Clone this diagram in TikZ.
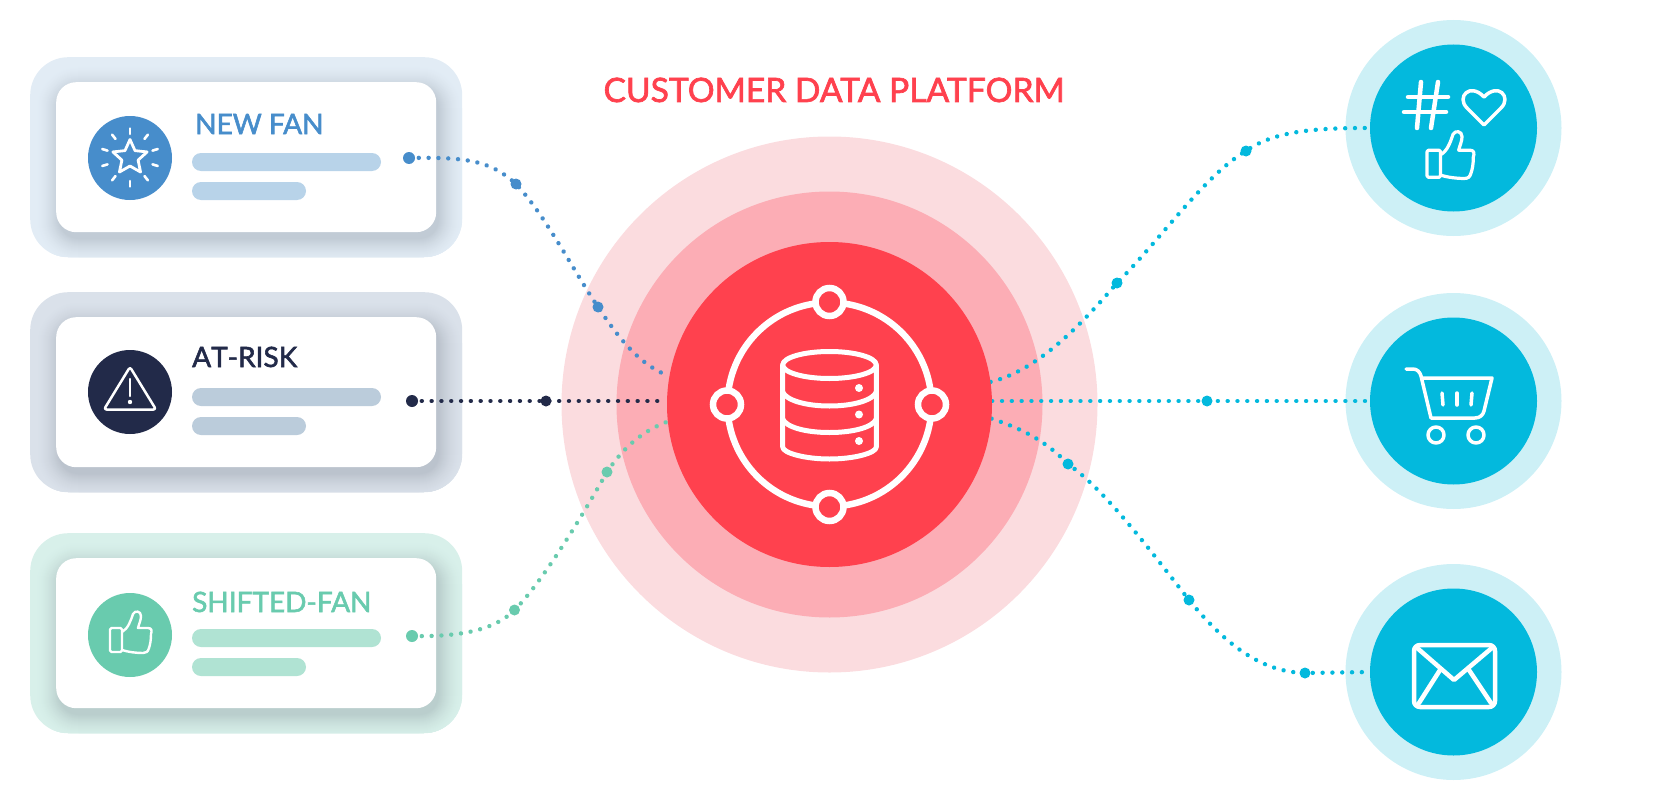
\documentclass[tikz,border=0pt]{standalone}
\usepackage{fontspec}
\setmainfont{Lato}
\newfontfamily\lblfont{Lato}[FakeBold=2]
\newfontfamily\lblnokern{Lato}[FakeBold=2,Kerning=Off]
\definecolor{fanblue}{HTML}{478DCB}
\definecolor{fannavy}{HTML}{222A49}
\definecolor{fangreen}{HTML}{69CBAE}
\definecolor{panelblue}{HTML}{E2ECF5}
\definecolor{panelnavy}{HTML}{DAE1EA}
\definecolor{panelgreen}{HTML}{D8F0EA}
\definecolor{barblue}{HTML}{B8D3E9}
\definecolor{barnavy}{HTML}{BBCCDB}
\definecolor{bargreen}{HTML}{B0E3D3}
\definecolor{cdpred}{HTML}{FF414E}
\definecolor{cdpmid}{HTML}{FCADB5}
\definecolor{cdplight}{HTML}{FBDCDF}
\definecolor{teal}{HTML}{03B9DD}
\definecolor{teallight}{HTML}{CDF0F6}
\definecolor{shadowtone}{HTML}{5A6470}
\pgfdeclarelayer{halo}
\pgfdeclarelayer{wire}
\pgfsetlayers{halo,wire,main}
\tikzset{
  disc/.style={circle,inner sep=0pt,minimum size=#1*2pt},
  wireline/.style={line width=4.4pt,line cap=round,dash pattern=on 0.01pt off 9.8pt},
  icon/.style={draw=white,line width=#1,line cap=round,line join=round},
  icon/.default=2.5pt,
  bigdot/.style={circle,inner sep=0pt,minimum size=12pt,fill=#1},
  middot/.style={circle,inner sep=0pt,minimum size=11pt,fill=#1},
  fantitle/.style={anchor=base west,inner sep=0pt,font=\lblfont\fontsize{28}{30}\selectfont},
}
\newcommand{\fancard}[4]{% top y of panel, panel colour, bar colour, name
  \begin{pgfonlayer}{halo}
    \node[minimum width=432pt,minimum height=200pt,inner sep=0pt,rounded corners=38pt,fill=#2,anchor=north west] (#4panel) at (30,#1) {};
    \begin{scope}
      \path[clip,rounded corners=38pt] (30,#1) rectangle ++(432,200);
      \foreach \grow in {24,23,...,0}{
        \pgfmathsetmacro{\mixk}{24*((24-\grow)/24)^1.7}
        \fill[shadowtone!\mixk!#2,rounded corners=20pt+\grow*1pt]
          (56-\grow+3,#1+25-\grow+7) rectangle (436+\grow+3,#1+175+\grow+7);
      }
    \end{scope}
    \node[minimum width=380pt,minimum height=150pt,inner sep=0pt,rounded corners=20pt,fill=white,anchor=north west] (#4card) at (56,#1+25) {};
    \fill[#3,rounded corners=9pt] (192,#1+96) rectangle (381,#1+114);
    \fill[#3,rounded corners=9pt] (192,#1+125) rectangle (306,#1+143);
  \end{pgfonlayer}
}
\newcommand{\thumbshape}{%
  \draw[rounded corners=1.5pt] (0,17) rectangle (12,41);
  \draw (12,21) .. controls (18,18) and (21,9) .. (23,3)
     .. controls (25,-1) and (31,0) .. (31,5)
     .. controls (31,9) and (29,13) .. (28,17) -- (38,17)
     .. controls (42,17) and (42,20) .. (41,23)
     .. controls (41,30) and (40,34) .. (39,37)
     .. controls (38,41) and (36,42) .. (33,42)
     .. controls (26,42) and (18,41) .. (12,39);
}
\begin{document}
\begin{tikzpicture}[x=1pt,y=-1pt]
\useasboundingbox (0,0) rectangle (1660,800);

% cards
\fancard{57}{panelblue}{barblue}{newfan}
\fancard{292}{panelnavy}{barnavy}{atrisk}
\fancard{533}{panelgreen}{bargreen}{shifted}

% halos
\begin{pgfonlayer}{halo}
  \node[disc=268,fill=cdplight] (hubouter) at (829.5,404.5) {};
  \node[disc=213,fill=cdpmid] (hubmid) at (829.5,404.5) {};
  \node[disc=108,fill=teallight] (socialhalo) at (1453.5,128) {};
  \node[disc=108,fill=teallight] (carthalo) at (1453.5,401) {};
  \node[disc=108,fill=teallight] (mailhalo) at (1453.5,672) {};
\end{pgfonlayer}

% solid discs
\node[disc=162.5,fill=cdpred] (hub) at (829.5,404.5) {};
\node[disc=83.5,fill=teal] (social) at (1453.5,128) {};
\node[disc=83.5,fill=teal] (cart) at (1453.5,401) {};
\node[disc=83.5,fill=teal] (mail) at (1453.5,672) {};
\node[disc=42,fill=fanblue] (newfanicon) at (130,158) {};
\node[disc=42,fill=fannavy] (atriskicon) at (130,392) {};
\node[disc=42,fill=fangreen] (shiftedicon) at (130,635) {};

% titles
\node[anchor=base,inner sep=0pt,text=cdpred,font=\lblfont\fontsize{33.6}{35}\selectfont] (title) at (834,102) {CUSTOMER DATA PLATFORM};
\node[fantitle,text=fanblue] (newfantext) at (195,134) {NEW FAN};
\node[fantitle,text=fannavy,font=\lblnokern\fontsize{28}{30}\selectfont] (atrisktext) at (192,367) {AT-RISK};
\node[fantitle,text=fangreen] (shiftedtext) at (192,612) {SHIFTED-FAN};

% dots
\node[bigdot=fanblue] (b0) at (409,158) {};
\node[middot=fanblue] (b1) at (516,184) {};
\node[middot=fanblue] (b2) at (598,307) {};
\node[bigdot=fannavy] (d0) at (412,401) {};
\node[middot=fannavy] (d1) at (546,401) {};
\node[bigdot=fangreen] (g0) at (412,636) {};
\node[middot=fangreen] (g1) at (514.5,610) {};
\node[middot=fangreen] (g2) at (607,472) {};
\node[middot=teal] (t1) at (1246,151) {};
\node[middot=teal] (t2) at (1117,283) {};
\node[middot=teal] (m1) at (1207,401) {};
\node[middot=teal] (l1) at (1068,464) {};
\node[middot=teal] (l2) at (1189,600) {};
\node[middot=teal] (l3) at (1305,673) {};

% wires
\begin{pgfonlayer}{wire}
  \draw[wireline,fanblue] (b0.center) .. controls (465,157) and (490,160) .. (b1.center)
     .. controls (545,215) and (570,265) .. (b2.center)
     .. controls (620,340) and (640,365) .. (hub.170);
  \draw[wireline,fannavy] (d0.center) -- (d1.center) -- (d1 -| hub.west);
  \draw[wireline,fangreen] (g0.center) .. controls (460,637) and (495,630) .. (g1.center)
     .. controls (540,585) and (580,520) .. (g2.center)
     .. controls (625,445) and (645,430) .. (hub.186);
  \draw[wireline,teal] (hub.8) .. controls (1040,370) and (1085,320) .. (t2.center)
     .. controls (1160,240) and (1205,175) .. (t1.center)
     .. controls (1275,130) and (1320,128) .. (social.west);
  \draw[wireline,teal] (m1 -| hub.east) -- (m1.center) -- (cart.west);
  \draw[wireline,teal] (hub.-5) .. controls (1020,428) and (1045,440) .. (l1.center)
     .. controls (1105,490) and (1150,550) .. (l2.center)
     .. controls (1230,650) and (1265,672) .. (l3.center) -- (mail.west);
\end{pgfonlayer}

% hub ring and database
\draw[white,line width=6.5pt] (829.5,404.5) circle (102);
\foreach \px/\py/\pn in {829.5/302/ringn,829.5/507/rings,727/404.5/ringw,932/404.5/ringe}{
  \node[circle,inner sep=0pt,minimum size=28pt,draw=white,line width=6.5pt,fill=cdpred] (\pn) at (\px,\py) {};
}
\begin{scope}[icon=5pt]
  \draw (829.5,365) ellipse (46.8 and 13.5);
  \draw (782.7,365) -- (782.7,447) .. controls (782.7,453) and (805,459) .. (829.5,459)
     .. controls (854,459) and (876.3,453) .. (876.3,447) -- (876.3,365);
  \draw (782.7,392) .. controls (786,400) and (805,406) .. (829.5,406)
     .. controls (854,406) and (873,400) .. (876.3,392);
  \draw (782.7,419) .. controls (786,427) and (805,432.5) .. (829.5,432.5)
     .. controls (854,432.5) and (873,427) .. (876.3,419);
\end{scope}
\foreach \py in {388,414.5,441}{\fill[white] (859,\py) circle (4);}

% star icon
\begin{scope}[shift={(130,157.5)},yscale=-1]
  \draw[icon=2.8pt] (90:18) -- (54:8.5) -- (18:18) -- (-18:8.5) -- (-54:18) -- (-90:8.5) -- (-126:18) -- (-162:8.5) -- (162:18) -- (126:8.5) -- cycle;
  \foreach \a in {90,52,17,-17,-52,-90,-128,-163,163,128}{
    \draw[icon=2.6pt] (\a:23.5) -- (\a:29);
  }
\end{scope}

% warning icon
\draw[icon=2.5pt,rounded corners=2.5pt] (130,367) -- (156,409.5) -- (104,409.5) -- cycle;
\draw[icon=2.5pt] (130,379) -- (130,396);
\fill[white] (130,402) circle (2.2);

% thumb in card
\begin{scope}[shift={(110,611)},icon=2.4pt]
  \thumbshape
\end{scope}

% social icon
\begin{scope}[icon=4.5pt]
  \draw (1421,82) -- (1417,128);
  \draw (1438,82) -- (1431,128);
  \draw (1408,97) -- (1448,97);
  \draw (1404,112) -- (1446,112);
\end{scope}
\draw[icon=3.5pt] (1484,125) -- (1467,108) .. controls (1456,97) and (1470,82) .. (1484,97)
   .. controls (1498,82) and (1512,97) .. (1501,108) -- cycle;
\begin{scope}[shift={(1427,131)},scale=1.13,icon=3.2pt]
  \thumbshape
\end{scope}

% cart icon
\begin{scope}[icon=3.5pt]
  \draw (1406,369) -- (1413,369) .. controls (1417,369) and (1420,372) .. (1421,376)
     -- (1431,418) -- (1475,418) .. controls (1480,418) and (1483,415) .. (1484,411)
     -- (1492,378) -- (1422,378);
  \draw (1442,393) -- (1443,405);
  \draw (1457,393) -- (1457,405);
  \draw (1472,393) -- (1471,405);
  \draw (1436,435) circle (8);
  \draw (1476,435) circle (8);
\end{scope}

% mail icon
\begin{scope}[icon=4.5pt]
  \draw[rounded corners=6pt] (1414,645) rectangle (1495,707);
  \draw (1416,647) -- (1454,680) -- (1493,647);
  \draw (1440,670) -- (1419,703);
  \draw (1469,670) -- (1491,703);
\end{scope}
\end{tikzpicture}
\end{document}
